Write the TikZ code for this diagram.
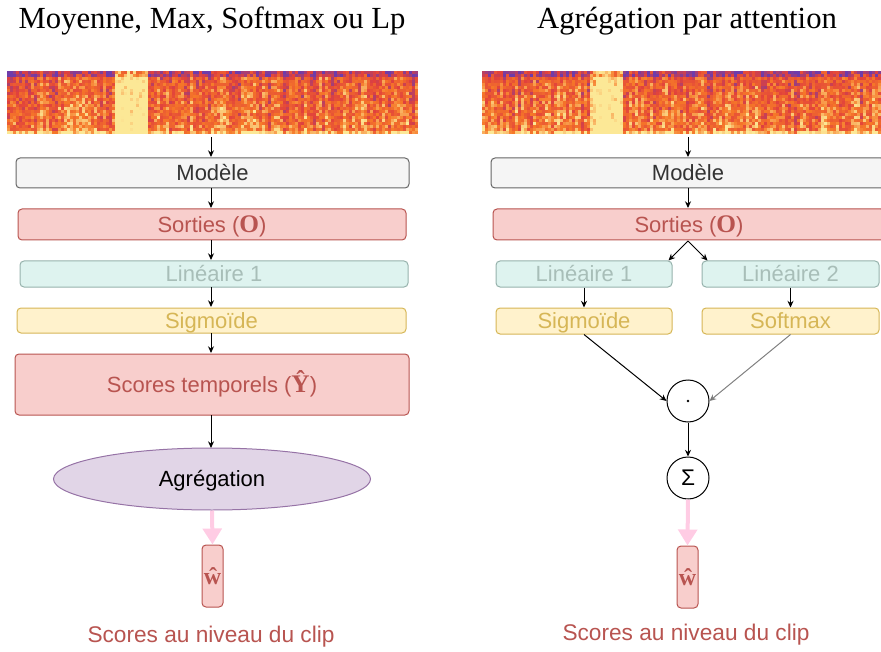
\documentclass[tikz,border=0pt]{standalone}
\usepackage{fontspec}
\setmainfont{Liberation Sans}
\newfontfamily\serifft{Liberation Serif}
\usetikzlibrary{arrows.meta,shapes.geometric,calc}
\definecolor{modfill}{HTML}{F5F5F5}
\definecolor{modline}{HTML}{666666}
\definecolor{modtext}{HTML}{333333}
\definecolor{redfill}{HTML}{F8CECC}
\definecolor{redline}{HTML}{B85450}
\definecolor{linfill}{RGB}{222,243,239}
\definecolor{linline}{RGB}{150,178,172}
\definecolor{lintext}{RGB}{168,190,184}
\definecolor{sigfill}{HTML}{FFF2CC}
\definecolor{sigline}{HTML}{D6B656}
\definecolor{aggfill}{HTML}{E1D5E7}
\definecolor{aggline}{HTML}{9673A6}
\definecolor{pinkc}{RGB}{255,204,228}
\definecolor{specpurple}{RGB}{110,60,170}
\definecolor{specred}{RGB}{225,65,60}
\definecolor{specorange}{RGB}{246,120,40}
\definecolor{specyellow}{RGB}{252,232,150}
\newcommand\spectro[2]{%
  \pgfmathsetseed{#2}%
  \foreach \ii in {0,...,136}{%
    \pgfmathrandominteger{\cc}{-18}{18}%
    \ifnum\ii>35 \ifnum\ii<47 \pgfmathtruncatemacro{\cc}{\cc+62}\fi\fi
    \foreach \jj in {0,...,20}{%
      \pgfmathrandominteger{\rv}{0}{50}%
      \pgfmathtruncatemacro{\vv}{max(0,\rv+\cc+\jj+26-(\jj<2)*30+(\jj>19)*25)}%
      \ifnum\vv<35
        \pgfmathtruncatemacro{\tv}{\vv*100/35}\def\colr{specred!\tv!specpurple}%
      \else\ifnum\vv<72
        \pgfmathtruncatemacro{\tv}{(\vv-35)*100/37}\def\colr{specorange!\tv!specred}%
      \else
        \pgfmathtruncatemacro{\tv}{min(100,(\vv-72)*3)}\def\colr{specyellow!\tv!specorange}%
      \fi\fi
      \fill[\colr] (#1+\ii*3, 71+\jj*3) rectangle ++(3.05,3.05);
    }%
  }%
}
\newcommand\pbox[7]{%
  \pgfmathsetmacro\bw{(#5-#3)*0.75}%
  \pgfmathsetmacro\bh{(#6-#4)*0.75}%
  \node[#2, minimum width=\bw pt, minimum height=\bh pt] (#1) at ({(#3+#5)/2},{(#4+#6)/2}) {#7};%
}
\newcommand\bsym[1]{{\serifft\bfseries\fontsize{19}{19}\selectfont #1}}
\begin{document}
\begin{tikzpicture}[x=0.75pt,y=-0.75pt,
  box/.style={draw, rounded corners=3pt, line width=0.75pt, inner sep=0pt, text height=11.8pt, text depth=0pt, font=\fontsize{16.5}{19}\selectfont},
  modbox/.style={box, fill=modfill, draw=modline, text=modtext},
  redbox/.style={box, fill=redfill, draw=redline, text=redline},
  linbox/.style={box, fill=linfill, draw=linline, text=lintext},
  sigbox/.style={box, fill=sigfill, draw=sigline, text=sigline},
  wbox/.style={box, fill=redfill, draw=redline, text=redline, text height=12pt, font=\serifft\bfseries\fontsize{18}{20}\selectfont},
  arr/.style={-{Stealth[length=5pt,width=4.5pt]}, line width=0.75pt},
  pinkarr/.style={-{Triangle[length=12pt,width=14pt]}, draw=pinkc, line width=3pt},
  titlef/.style={font=\serifft\fontsize{23}{27}\selectfont},
  caption/.style={font=\fontsize{17}{20}\selectfont, text=redline},
  op/.style={circle, draw, line width=0.75pt, minimum size=31.5pt, inner sep=0pt, fill=white, font=\fontsize{17}{19}\selectfont}
]
\useasboundingbox (0,0) rectangle (881,652);
\begin{scope}
\clip (0,0) rectangle (881,652);
\spectro{7}{11}
\spectro{482}{23}
\end{scope}

% titles
\node[titlef] (titleL) at (212,21) {Moyenne, Max, Softmax ou Lp};
\node[titlef] (titleR) at (687,21) {Agrégation par attention};

% left column
\coordinate (specL) at (211,137);
\pbox{modL}{modbox}{16}{158}{409}{188}{Modèle}
\pbox{sorL}{redbox}{18}{209}{406}{240}{Sorties (\bsym{O})}
\pbox{linL}{linbox}{20}{261}{408}{287}{Linéaire 1}
\pbox{sigL}{sigbox}{17}{308}{406}{333}{Sigmoïde}
\pbox{scoL}{redbox}{15}{354}{409}{415}{Scores temporels (\bsym{Ŷ})}
\node[ellipse, draw=aggline, fill=aggfill, line width=0.75pt, minimum width=237.75pt, minimum height=46.5pt, inner sep=0pt, text height=11.8pt, text depth=0pt, font=\fontsize{16.5}{19}\selectfont] (aggL) at (212,479) {Agrégation};
\pbox{wL}{wbox}{202}{545}{223}{607}{ŵ}
\node[caption] (capL) at (211,637) {Scores au niveau du clip};

\draw[arr] (specL) -- (211,157);
\draw[arr] (211,188) -- (211,208);
\draw[arr] (211,240) -- (211,260);
\draw[arr] (211,287) -- (211,307);
\draw[arr] (211,333) -- (211,353);
\draw[arr] (211,415) -- (211,448);
\draw[pinkarr] (aggL.south) -- (wL.north);

% right column
\coordinate (specR) at (688,137);
\pbox{modR}{modbox}{491}{158}{885}{188}{Modèle}
\pbox{sorR}{redbox}{493}{209}{885}{240}{Sorties (\bsym{O})}
\pbox{lin1R}{linbox}{496}{261}{672}{287}{Linéaire 1}
\pbox{lin2R}{linbox}{702}{261}{879}{287}{Linéaire 2}
\pbox{sigR}{sigbox}{496}{308}{672}{334}{Sigmoïde}
\pbox{softR}{sigbox}{702}{308}{879}{334}{Softmax}
\node[op] (dotR) at (688,401) {};
\fill (dotR.center) circle[radius=1.1pt];
\node[op] (sumR) at (688,478) {Σ};
\pbox{wR}{wbox}{677}{546}{698}{608}{ŵ}
\node[caption] (capR) at (686,635) {Scores au niveau du clip};

\draw[arr] (specR) -- (688,157);
\draw[arr] (688,188) -- (688,208);
\draw[arr] (688,241) -- ($(lin1R.north east)+(-4,0)$);
\draw[arr] (688,241) -- ($(lin2R.north west)+(6,0)$);
\draw[arr] (lin1R.south) -- (sigR.north);
\draw[arr] (lin2R.south) -- (softR.north);
\draw[arr] (sigR.south) -- (dotR.west);
\draw[arr, draw=gray, -{Stealth[length=5pt,width=4.5pt,fill=black]}] (softR.south) -- (dotR.east);
\draw[arr] (dotR.south) -- (sumR.north);
\draw[pinkarr] (sumR.south) -- (wR.north);
\end{tikzpicture}
\end{document}
